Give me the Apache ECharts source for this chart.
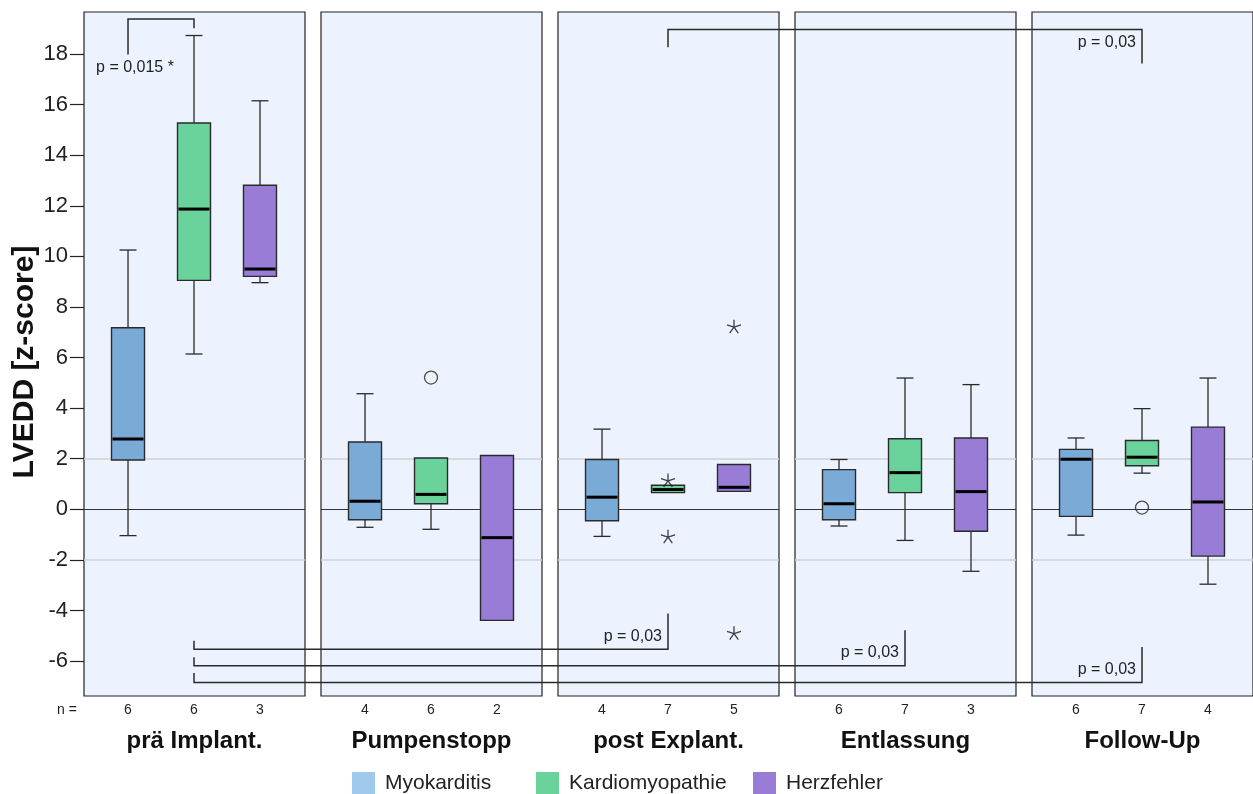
<!DOCTYPE html>
<html><head><meta charset="utf-8">
<script src="https://cdn.jsdelivr.net/npm/echarts@6/dist/echarts.min.js"></script>
<style>html,body{margin:0;padding:0;background:#fff}#c{width:1253px;height:794px}</style>
</head><body><div id="c"></div>
<script>
// ---------- data ----------
const phases = ['prä Implant.', 'Pumpenstopp', 'post Explant.', 'Entlassung', 'Follow-Up'];
const groups = ['Myokarditis', 'Kardiomyopathie', 'Herzfehler'];
// per phase: [lower whisker, Q1, median, Q3, upper whisker]
const myokarditis = [
  [-1.04, 1.95, 2.78, 7.18, 10.25],
  [-0.71, -0.41, 0.32, 2.66, 4.57],
  [-1.07, -0.45, 0.48, 1.97, 3.17],
  [-0.66, -0.41, 0.22, 1.57, 1.97],
  [-1.02, -0.28, 1.98, 2.37, 2.82]
];
const kardiomyopathie = [
  [6.14, 9.05, 11.87, 15.27, 18.73],
  [-0.79, 0.22, 0.59, 2.03, 2.03],
  [0.66, 0.66, 0.78, 0.95, 0.95],
  [-1.23, 0.66, 1.45, 2.79, 5.19],
  [1.43, 1.72, 2.06, 2.72, 3.98]
];
const herzfehler = [
  [8.96, 9.21, 9.50, 12.81, 16.15],
  [-4.39, -4.39, -1.12, 2.13, 2.13],
  [0.71, 0.71, 0.87, 1.77, 1.77],
  [-2.45, -0.87, 0.70, 2.82, 4.93],
  [-2.96, -1.85, 0.29, 3.25, 5.19]
];
const nCounts = [[6, 6, 3], [4, 6, 2], [4, 7, 5], [6, 7, 3], [6, 7, 4]];
// [phaseIndex, groupIndex, value]
const outlierCircles = [[1, 1, 5.21], [4, 1, 0.07]];
const outlierStars = [[2, 1, 1.15], [2, 1, -1.07], [2, 2, 7.23], [2, 2, -4.89]];
const yTicks = [-6, -4, -2, 0, 2, 4, 6, 8, 10, 12, 14, 16, 18];
const refLines = [-2, 0, 2];
const yMin = -7.38, yMax = 19.66;
// significance brackets: from/to = [phaseIndex, groupIndex]; y levels in z-score units
const bracketFrom = [[0, 0], [2, 1], [0, 1], [0, 1], [0, 1]];
const bracketTo = [[0, 1], [4, 1], [2, 1], [3, 1], [4, 1]];
const bracketFromY = [17.98, 18.27, -5.20, -5.85, -6.47];
const bracketBarY = [19.38, 18.97, -5.53, -6.18, -6.85];
const bracketToY = [19.02, 17.62, -4.12, -4.78, -5.44];
const bracketText = ['p = 0,015 *', 'p = 0,03', 'p = 0,03', 'p = 0,03', 'p = 0,03'];
const bracketTextY = [17.46, 18.45, -5.02, -5.68, -6.32];
const bracketTextAt = ['from', 'to', 'to', 'to', 'to'];

// ---------- style / layout ----------
const FONT = "'Liberation Sans', Arial, Helvetica, sans-serif";
const boxColors = ['#7aaad6', '#6ad39c', '#987cd6'];
const legendColors = ['#a0c9ee', '#6ad39c', '#987cd6'];
const legendLeft = [352, 536, 753];
const groupValues = [myokarditis, kardiomyopathie, herzfehler];
const PANEL_LEFT = 84, PANEL_STEP = 237, PANEL_W = 221, PANEL_TOP = 12, PANEL_H = 684;
const BOX_W = 33, CAP_W = 17;

const chart = echarts.init(document.getElementById('c'), null, {renderer: 'canvas'});

function renderBox(params, api) {
  const g = api.value(0);
  const ys = [1, 2, 3, 4, 5].map(i => api.coord([g, api.value(i)])[1]);
  const cx = api.coord([g, api.value(1)])[0];
  const [pLo, pQ1, pMed, pQ3, pHi] = ys;
  const color = api.visual('color');
  const hw = BOX_W / 2, cw = CAP_W / 2;
  const line = (x1, y1, x2, y2, w, c) => ({type: 'line', shape: {x1, y1, x2, y2}, style: {stroke: c || '#2a2a2a', lineWidth: w || 1.3}});
  const ch = [];
  if (pHi < pQ3 - 0.5) { ch.push(line(cx, pHi, cx, pQ3)); ch.push(line(cx - cw, pHi, cx + cw, pHi)); }
  if (pLo > pQ1 + 0.5) { ch.push(line(cx, pQ1, cx, pLo)); ch.push(line(cx - cw, pLo, cx + cw, pLo)); }
  ch.push({type: 'rect', shape: {x: cx - hw, y: pQ3, width: 2 * hw, height: Math.max(pQ1 - pQ3, 1)}, style: {fill: color, stroke: '#2a2a2a', lineWidth: 1.4}});
  ch.push(line(cx - hw + 1, pMed, cx + hw - 1, pMed, 3, '#000'));
  return {type: 'group', children: ch};
}

const grids = [], xAxes = [], yAxes = [], series = [];
phases.forEach((ph, p) => {
  grids.push({left: PANEL_LEFT + p * PANEL_STEP, top: PANEL_TOP, width: PANEL_W, height: PANEL_H,
    show: true, backgroundColor: '#edf3fe', borderColor: '#222', borderWidth: 1.2});
  xAxes.push({type: 'value', gridIndex: p, min: -0.667, max: 2.682,
    axisLine: {show: false, onZero: false}, axisTick: {show: false}, splitLine: {show: false},
    axisLabel: {customValues: [0, 1, 2], formatter: v => String(nCounts[p][Math.round(v)]),
      fontSize: 14, color: '#222', margin: 7, fontFamily: FONT},
    name: ph, nameLocation: 'middle', nameGap: 33,
    nameTextStyle: {fontSize: 24, fontWeight: 'bold', color: '#111', fontFamily: FONT}});
  yAxes.push({type: 'value', gridIndex: p, min: yMin, max: yMax, show: p === 0,
    axisLine: {show: false, onZero: false}, splitLine: {show: false},
    axisTick: {show: true, inside: false, customValues: yTicks, length: 14, lineStyle: {color: '#222', width: 1.2}},
    axisLabel: {customValues: yTicks, fontSize: 22, margin: 16, color: '#222', fontFamily: FONT},
    name: p === 0 ? 'LVEDD [z-score]' : '', nameLocation: 'middle', nameGap: 44, nameRotate: 90,
    nameTextStyle: {fontSize: 30, fontWeight: 'bold', color: '#111', fontFamily: FONT, padding: [0, 16, 0, 0]}});
  groups.forEach((gName, g) => {
    const s = {type: 'custom', name: gName, xAxisIndex: p, yAxisIndex: p, z: 10, clip: false,
      itemStyle: {color: boxColors[g]}, renderItem: renderBox,
      encode: {x: 0, y: [1, 2, 3, 4, 5]},
      data: [[g].concat(groupValues[g][p])]};
    if (g === 0) {
      s.markLine = {symbol: 'none', silent: true, z: 5, label: {show: false}, animation: false,
        data: refLines.map(v => ({yAxis: v, lineStyle: v === 0
          ? {color: '#333', width: 1.2, type: 'solid'}
          : {color: '#cfd0d2', width: 1.5, type: 'solid'}}))};
    }
    series.push(s);
  });
  series.push({type: 'scatter', xAxisIndex: p, yAxisIndex: p, z: 12, silent: true,
    symbol: 'circle', symbolSize: 13,
    itemStyle: {color: 'rgba(0,0,0,0)', borderColor: '#222', borderWidth: 1.3},
    data: outlierCircles.filter(o => o[0] === p).map(o => [o[1], o[2]])});
  series.push({type: 'scatter', xAxisIndex: p, yAxisIndex: p, z: 12, silent: true,
    symbol: 'path://M0,0L0,-10M0,0L9.51,-3.09M0,0L5.88,8.09M0,0L-5.88,8.09M0,0L-9.51,-3.09',
    symbolSize: 14, symbolKeepAspect: true,
    itemStyle: {color: 'rgba(0,0,0,0)', borderColor: '#111', borderWidth: 1.3},
    data: outlierStars.filter(o => o[0] === p).map(o => [o[1], o[2]])});
});

chart.setOption({
  animation: false,
  backgroundColor: '#fff',
  textStyle: {fontFamily: FONT},
  grid: grids, xAxis: xAxes, yAxis: yAxes, series: series,
  legend: groups.map((gName, i) => ({
    data: [{name: gName, itemStyle: {color: legendColors[i], borderWidth: 0}}],
    left: legendLeft[i], top: 772, icon: 'rect', itemWidth: 23, itemHeight: 23,
    selectedMode: false, padding: 0,
    textStyle: {fontSize: 21, color: '#222', fontFamily: FONT, padding: [0, 0, 0, 5]}
  }))
});

// brackets drawn through the axes' scales
const P = (pg, v) => chart.convertToPixel({gridIndex: pg[0]}, [pg[1], v]);
const graphics = [];
bracketFrom.forEach((fr, i) => {
  const to = bracketTo[i];
  const a = P(fr, bracketFromY[i]), a2 = P(fr, bracketBarY[i]);
  const c2 = P(to, bracketBarY[i]), c = P(to, bracketToY[i]);
  graphics.push({type: 'polyline', z: 50, silent: true,
    shape: {points: [a, a2, c2, c]}, style: {stroke: '#2a2a2a', lineWidth: 1.5, fill: null}});
  const atFrom = bracketTextAt[i] === 'from';
  const lp = P(atFrom ? fr : to, bracketTextY[i]);
  graphics.push({type: 'text', z: 50, silent: true, x: lp[0] + (atFrom ? 7 : -6), y: lp[1],
    style: {text: bracketText[i], fontSize: 16, fill: '#222', fontFamily: FONT,
      align: atFrom ? 'center' : 'right', verticalAlign: 'middle'}});
});
graphics.push({type: 'text', silent: true, x: 57, y: 710,
  style: {text: 'n =', fontSize: 14, fill: '#222', fontFamily: FONT, verticalAlign: 'middle'}});
chart.setOption({graphic: graphics});
</script>
</body></html>
